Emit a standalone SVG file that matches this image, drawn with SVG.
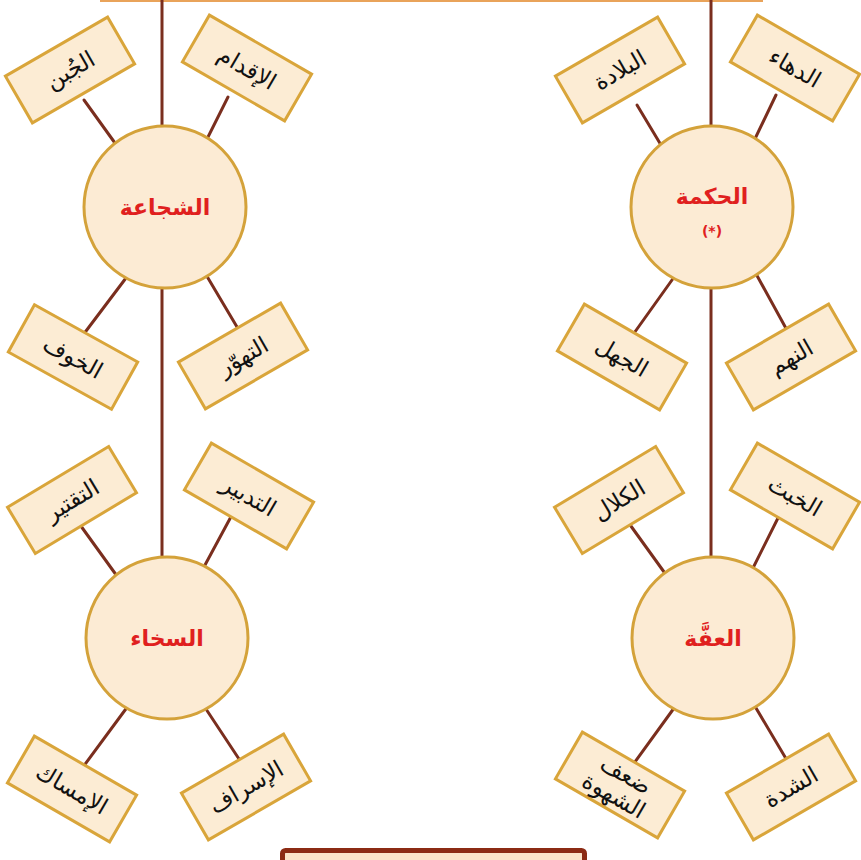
<svg xmlns="http://www.w3.org/2000/svg" width="861" height="860" viewBox="0 0 861 860">
  <style>
    .link { stroke: #7a2e1e; stroke-width: 3; fill: none; stroke-linecap: round; }
    .top-rule { stroke: #e9a35a; stroke-width: 3; }
    .virtue circle { fill: #fcebd4; stroke: #d4a23a; stroke-width: 3; }
    .virtue text { fill: #e0201e; font-family: "DejaVu Sans", sans-serif; font-weight: bold; font-size: 22px; text-anchor: middle; }
    .virtue text.mark { font-size: 14px; }
    .vice rect { fill: #fcecd4; stroke: #d9a53a; stroke-width: 3; }
    .vice text { fill: #111; font-family: "DejaVu Sans", sans-serif; font-size: 23px; text-anchor: middle; }
  </style>
  <rect width="861" height="860" fill="#ffffff"/>

  <!-- connectors -->
  <g id="connectors">
    <line class="top-rule" x1="100" y1="0.5" x2="763" y2="0.5"/>
    <line class="link" x1="162" y1="0" x2="162" y2="600"/>
    <line class="link" x1="711" y1="0" x2="711" y2="600"/>
    <!-- courage -->
    <line class="link" x1="84" y1="100" x2="120" y2="150"/>
    <line class="link" x1="228" y1="97" x2="204" y2="145"/>
    <line class="link" x1="129" y1="274" x2="83" y2="335"/>
    <line class="link" x1="205" y1="273" x2="240" y2="332"/>
    <!-- wisdom -->
    <line class="link" x1="637" y1="105" x2="664" y2="150"/>
    <line class="link" x1="776" y1="95" x2="752" y2="145"/>
    <line class="link" x1="677" y1="273" x2="632" y2="336"/>
    <line class="link" x1="755" y1="272" x2="788" y2="332"/>
    <!-- generosity -->
    <line class="link" x1="78" y1="522" x2="122" y2="583"/>
    <line class="link" x1="233" y1="513" x2="198" y2="578"/>
    <line class="link" x1="131" y1="702" x2="83" y2="767"/>
    <line class="link" x1="202" y1="703" x2="241" y2="762"/>
    <!-- temperance -->
    <line class="link" x1="628" y1="522" x2="672" y2="583"/>
    <line class="link" x1="780" y1="514" x2="748" y2="578"/>
    <line class="link" x1="677" y1="704" x2="632" y2="766"/>
    <line class="link" x1="753" y1="703" x2="788" y2="762"/>
  </g>

  <!-- virtues -->
  <g id="courage" class="virtue">
    <circle cx="165" cy="207" r="81"/>
    <text x="165" y="215">الشجاعة</text>
  </g>
  <g id="wisdom" class="virtue">
    <circle cx="712" cy="207" r="81"/>
    <text x="712" y="204">الحكمة</text>
    <text class="mark" x="712" y="236">(*)</text>
  </g>
  <g id="generosity" class="virtue">
    <circle cx="167" cy="638" r="81"/>
    <text x="167" y="646">السخاء</text>
  </g>
  <g id="temperance" class="virtue">
    <circle cx="713" cy="638" r="81"/>
    <text x="713" y="646">العفَّة</text>
  </g>

  <!-- vices / extremes -->
  <g id="cowardice" class="vice" transform="translate(70 70) rotate(-30)">
    <rect x="-59" y="-27" width="118" height="54"/>
    <text y="8">الجُبن</text>
  </g>
  <g id="boldness" class="vice" transform="translate(247 68) rotate(30)">
    <rect x="-59" y="-27" width="118" height="54"/>
    <text y="8">الإقدام</text>
  </g>
  <g id="dullness" class="vice" transform="translate(620 70) rotate(-30)">
    <rect x="-59" y="-27" width="118" height="54"/>
    <text y="8">البلادة</text>
  </g>
  <g id="cunning" class="vice" transform="translate(795 68) rotate(30)">
    <rect x="-59" y="-27" width="118" height="54"/>
    <text y="8">الدهاء</text>
  </g>

  <g id="fear" class="vice" transform="translate(73 357) rotate(29)">
    <rect x="-59" y="-27" width="118" height="54"/>
    <text y="8">الخوف</text>
  </g>
  <g id="recklessness" class="vice" transform="translate(243 356) rotate(-30)">
    <rect x="-59" y="-27" width="118" height="54"/>
    <text y="8">التهوّر</text>
  </g>
  <g id="ignorance" class="vice" transform="translate(622 357) rotate(30)">
    <rect x="-59" y="-27" width="118" height="54"/>
    <text y="8">الجهل</text>
  </g>
  <g id="greed" class="vice" transform="translate(791 357) rotate(-30)">
    <rect x="-59" y="-27" width="118" height="54"/>
    <text y="8">النهم</text>
  </g>

  <g id="stinginess" class="vice" transform="translate(72 500) rotate(-31)">
    <rect x="-59" y="-27" width="118" height="54"/>
    <text y="8">التقتير</text>
  </g>
  <g id="prudence" class="vice" transform="translate(249 496) rotate(30)">
    <rect x="-59" y="-27" width="118" height="54"/>
    <text y="8">التدبير</text>
  </g>
  <g id="fatigue" class="vice" transform="translate(619 500) rotate(-31)">
    <rect x="-59" y="-27" width="118" height="54"/>
    <text y="8">الكلال</text>
  </g>
  <g id="malice" class="vice" transform="translate(795 496) rotate(30)">
    <rect x="-59" y="-27" width="118" height="54"/>
    <text y="8">الخبث</text>
  </g>

  <g id="miserliness" class="vice" transform="translate(72 789) rotate(30)">
    <rect x="-59" y="-27" width="118" height="54"/>
    <text y="8">الإمساك</text>
  </g>
  <g id="extravagance" class="vice" transform="translate(246 787) rotate(-30)">
    <rect x="-59" y="-27" width="118" height="54"/>
    <text y="8">الإسراف</text>
  </g>
  <g id="weak-desire" class="vice" transform="translate(620 785) rotate(30)">
    <rect x="-59" y="-27" width="118" height="54"/>
    <text y="-4" font-size="21">ضعف</text>
    <text y="20" font-size="21">الشهوة</text>
  </g>
  <g id="severity" class="vice" transform="translate(791 787) rotate(-30)">
    <rect x="-59" y="-27" width="118" height="54"/>
    <text y="8">الشدة</text>
  </g>

  <!-- bottom panel edge -->
  <g id="panel">
    <rect x="282.5" y="850.5" width="302" height="20" rx="3" fill="#fbe4c9" stroke="#8c2b14" stroke-width="5"/>
  </g>
</svg>
